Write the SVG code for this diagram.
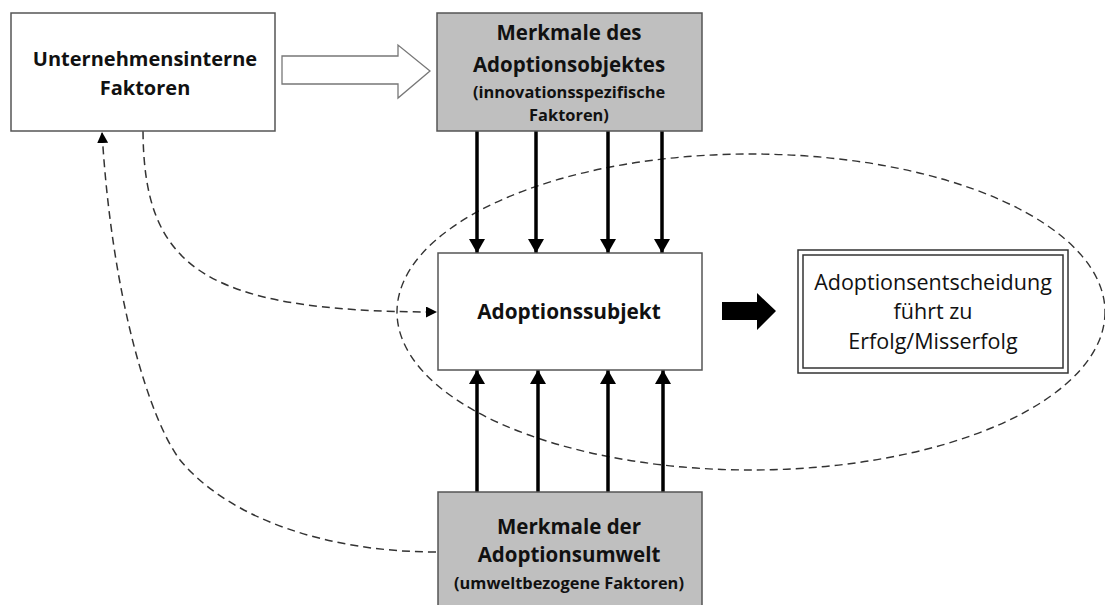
<svg xmlns="http://www.w3.org/2000/svg" width="1105" height="605" viewBox="0 0 1105 605">
<style>
.box{stroke:#555;stroke-width:1.5}
.w{fill:#fff}
.g{fill:#bfbfbf}
.t{font-family:"Open Sans","Liberation Sans",sans-serif;fill:#111;text-anchor:middle}
.b{font-weight:bold}
.dash{fill:none;stroke:#333;stroke-width:1.5;stroke-dasharray:8,5}
.solid{stroke:#000;stroke-width:3.5}
</style>
<defs>
<marker id="ah" markerWidth="14" markerHeight="16" refX="14" refY="8" orient="auto" markerUnits="userSpaceOnUse">
<path d="M0,0 L14,8 L0,16 Z" fill="#000"/>
</marker>
<marker id="dh" markerWidth="11" markerHeight="11" refX="11" refY="5.5" orient="auto" markerUnits="userSpaceOnUse">
<path d="M0,0 L11,5.5 L0,11 Z" fill="#000"/>
</marker>
</defs>
<ellipse cx="751" cy="312" rx="354" ry="158" fill="none" stroke="#333" stroke-width="1.4" stroke-dasharray="8,5"/>
<g id="connectors">
<path d="M282,56 L398,56 L398,45 L430,71 L398,98 L398,84 L282,84 Z" fill="#fff" stroke="#777" stroke-width="1.3"/>
<line class="solid" x1="477" y1="131" x2="477" y2="253" marker-end="url(#ah)"/>
<line class="solid" x1="536" y1="131" x2="536" y2="253" marker-end="url(#ah)"/>
<line class="solid" x1="608" y1="131" x2="608" y2="253" marker-end="url(#ah)"/>
<line class="solid" x1="662" y1="131" x2="662" y2="253" marker-end="url(#ah)"/>
<line class="solid" x1="477" y1="492" x2="477" y2="370" marker-end="url(#ah)"/>
<line class="solid" x1="538" y1="492" x2="538" y2="370" marker-end="url(#ah)"/>
<line class="solid" x1="608" y1="492" x2="608" y2="370" marker-end="url(#ah)"/>
<line class="solid" x1="663" y1="492" x2="663" y2="370" marker-end="url(#ah)"/>
<path d="M722,302 L757,302 L757,293 L776,311 L757,330 L757,320 L722,320 Z" fill="#000"/>
<path class="dash" d="M143,131 C144,265 200,312 437,312" marker-end="url(#dh)"/>
<path class="dash" d="M436,552 C330,552 230,520 180,460 C150,420 112,300 102,132" marker-end="url(#dh)"/>
</g>
<g id="n1">
<rect class="box w" x="11" y="13" width="264" height="118"/>
<text class="t b" x="145" y="66" font-size="20">Unternehmensinterne</text>
<text class="t b" x="145" y="95" font-size="20">Faktoren</text>
</g>
<g id="n2">
<rect class="box g" x="437" y="13" width="265" height="118"/>
<text class="t b" x="569" y="40" font-size="20.5">Merkmale des</text>
<text class="t b" x="569" y="72" font-size="20.5">Adoptionsobjektes</text>
<text class="t b" x="569" y="98" font-size="16.4">(innovationsspezifische</text>
<text class="t b" x="569" y="121" font-size="16.4">Faktoren)</text>
</g>
<g id="n3">
<rect class="box w" x="438" y="253" width="264" height="117"/>
<text class="t b" x="569" y="319" font-size="20.8">Adoptionssubjekt</text>
</g>
<g id="n4">
<rect class="box g" x="438" y="492" width="264" height="120"/>
<text class="t b" x="569" y="534" font-size="20.5">Merkmale der</text>
<text class="t b" x="569" y="562" font-size="20.5">Adoptionsumwelt</text>
<text class="t b" x="569" y="589" font-size="16.4">(umweltbezogene Faktoren)</text>
</g>
<g id="n5">
<rect x="798" y="250" width="270" height="123" fill="#fff" stroke="#333" stroke-width="1.5"/>
<rect x="803" y="255" width="260" height="113" fill="none" stroke="#333" stroke-width="1.5"/>
<text class="t" x="933" y="290" font-size="21.5">Adoptionsentscheidung</text>
<text class="t" x="933" y="319" font-size="21.5">führt zu</text>
<text class="t" x="933" y="349" font-size="21.5">Erfolg/Misserfolg</text>
</g>
</svg>
